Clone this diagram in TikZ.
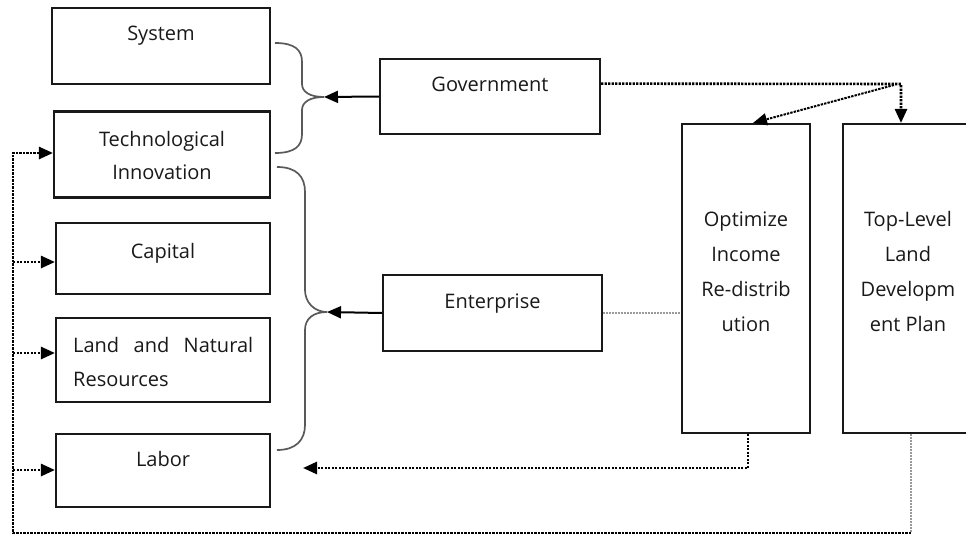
\documentclass[tikz,border=0pt]{standalone}
\usepackage{fontspec}
\setmainfont{Open Sans}
\usetikzlibrary{arrows.meta,calc}
\begin{document}
\begin{tikzpicture}[x=1pt,y=-1pt,
  box/.style={draw=black!90,line width=2.1pt,minimum width=#1,inner sep=0pt},
  txt/.style={anchor=base,inner sep=0pt,font=\fontsize{20}{23}\selectfont,text=black!90},
  brace/.style={draw=black!65,line width=1.7pt},
  dotb/.style={draw=black,line width=2.6pt,dash pattern=on 2.4pt off 1.1pt},
  dotg/.style={draw=black!40,line width=1.6pt,dash pattern=on 2pt off 1pt},
  tip/.style={-{Triangle[length=14pt,width=12pt]}},
  solidarr/.style={draw=black,line width=2pt,-{Triangle[length=14pt,width=12pt]}}]
\useasboundingbox (0,0) rectangle (966,535);
\clip (0,0) rectangle (966,535);
% boxes
\node[box=218pt,minimum height=76pt] (sys) at (161,46) {};
\node[box=216pt,minimum height=86pt] (tech) at (162,154.5) {};
\node[box=214pt,minimum height=71pt] (cap) at (163,258.5) {};
\node[box=214pt,minimum height=84pt] (land) at (163,360) {};
\node[box=214pt,minimum height=73pt] (lab) at (163,470.5) {};
\node[box=220pt,minimum height=75pt] (gov) at (490,96.5) {};
\node[box=219pt,minimum height=76pt] (ent) at (492.5,313) {};
\node[box=128pt,minimum height=309pt] (opt) at (746,278.5) {};
\node[box=130pt,minimum height=309pt] (top) at (908,278.5) {};
% texts
\node[txt] (tsys) at (161,41) {System};
\node[txt] (ttech1) at (162,146) {Technological};
\node[txt] (ttech2) at (162,179) {Innovation};
\node[txt] (tcap) at (163,258) {Capital};
\node[txt,anchor=base west] (tland1) at (73,352) {\hbox to 180pt{Land\hfill and\hfill Natural}};
\node[txt,anchor=base west] (tland2) at (73,386) {Resources};
\node[txt] (tlab) at (163,466) {Labor};
\node[txt] (tgov) at (490,92) {Government};
\node[txt] (tent) at (492.5,308) {Enterprise};
\node[txt] (topt1) at (746,226) {Optimize};
\node[txt] (topt2) at (746,261) {Income};
\node[txt] (topt3) at (746,296) {Re-distrib};
\node[txt] (topt4) at (746,331) {ution};
\node[txt] (ttop1) at (908,226) {Top-Level};
\node[txt] (ttop2) at (908,261) {Land};
\node[txt] (ttop3) at (908,296) {Developm};
\node[txt] (ttop4) at (908,331) {ent Plan};
% braces
\coordinate (b1) at (324,97);
\coordinate (b2) at (327,312);
\draw[brace] (275,43) .. controls (295,43) and (302,50) .. (302,62) -- (302,84)
  .. controls (302,92) and (310,97) .. (b1) .. controls (310,97) and (302,102) .. (302,110)
  -- (302,134) .. controls (302,146) and (295,153) .. (275,153);
\draw[brace] (277,167) .. controls (297,167) and (305,177) .. (305,192) -- (305,290)
  .. controls (305,302) and (314,312) .. (b2) .. controls (314,312) and (305,318) .. (305,330)
  -- (305,425) .. controls (305,440) and (296,450) .. (277,450);
\draw[solidarr] (gov.west) -- (b1);
\draw[solidarr] (ent.west) -- (b2);
% government dotted links
\coordinate (gk) at (901,84);
\coordinate (gd) at (894,85);
\draw[dotb,tip] ($(gov.north east)!0.333!(gov.south east)$) -- (gk) -- (top.north -| gk);
\draw[dotb,line width=2pt,tip] (gd) -- (opt.north -| 753,0);
% enterprise to optimize
\draw[dotg] (ent.east) -- (opt.west |- ent.east);
% optimize to labor
\coordinate (ob) at (748,468);
\coordinate (la) at (303,468);
\draw[dotb,tip] (opt.south -| ob) -- (ob) -- (la);
% top-level feedback
\coordinate (tb) at (911,533);
\coordinate (lb) at (13,533);
\coordinate (lt) at (13,153);
\draw[dotg] (top.south -| tb) -- (tb);
\draw[dotb,tip] (tb) -- (lb) -- (lt) -- (tech.west |- lt);
\draw[dotb,tip] (13,262) -- (cap.west |- 0,262);
\draw[dotb,tip] (13,353) -- (land.west |- 0,353);
\draw[dotb,tip] (13,470) -- (lab.west |- 0,470);
\end{tikzpicture}
\end{document}
